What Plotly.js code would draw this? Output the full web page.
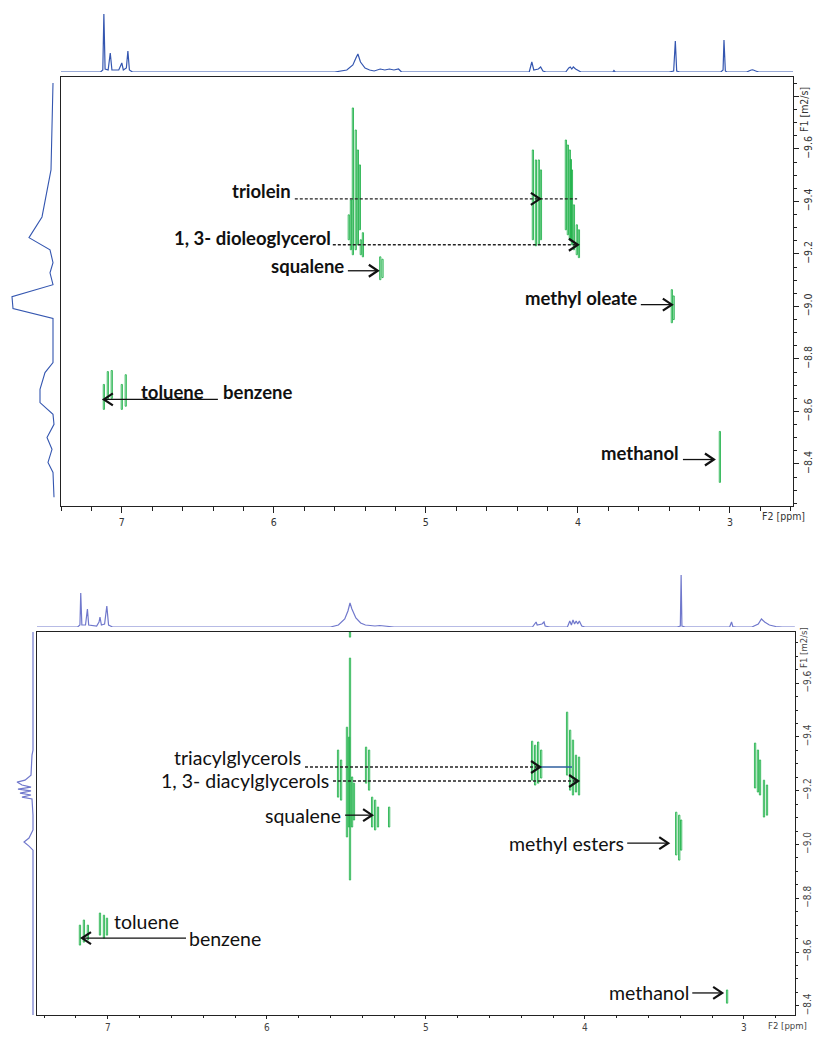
<!DOCTYPE html>
<html><head><meta charset="utf-8">
<script src="https://cdn.plot.ly/plotly-3.0.1.min.js"></script>
<style>html,body{margin:0;padding:0;background:#fff}#chart{width:813px;height:1037px}</style>
</head><body><div id="chart"></div>
<script>
// ---------------- DATA: top panel (triolein mixture) ----------------
// 1D 1H spectrum above the top DOSY map (ppm, intensity)
const topSpecPpm = [7.40,7.14,7.125,7.118,7.11,7.09,7.076,7.065,7.02,7.0,6.99,6.97,6.96,6.95,6.93,
  5.60,5.52,5.48,5.46,5.447,5.43,5.40,5.37,5.34,5.30,5.27,5.24,5.21,5.18,5.16,
  4.32,4.303,4.29,4.26,4.245,4.23,4.21,
  4.08,4.06,4.05,4.04,4.03,4.015,4.0,3.98,
  3.77,3.763,3.755,
  3.40,3.37,3.359,3.35,3.33,
  3.06,3.045,3.039,3.03,3.02,
  2.89,2.86,2.85,2.83,2.81,2.58];
const topSpecInt = [0,0,2,58,3,2,19,2,2,9,2,4,21,2,0,
  0,2,7,14,18,10,4,2,1,3,2,3,2,3,0,
  0,10,2,3,5,1,0,
  0,4,5,3,5,3,2,0,
  0,1.5,0,
  0,1,31,1,0,
  0,2,32,1,0,
  0,2,2.2,1,0,0];
// F1 projection (log D, intensity)
const topProjLogD = [-9.851,-9.520,-9.341,-9.262,-9.216,-9.167,-9.128,-9.083,-9.037,-8.992,-8.954,-8.786,-8.748,-8.684,-8.634,-8.589,-8.551,-8.501,-8.456,-8.406,-8.368,-8.273];
const topProjInt  = [0,2,11,24,3,0,3,0,41,40,0,0,8,13,13,0,-1,6,1,5,0,-1];
// 2D cross-peak stripes: chemical shift (ppm), log D upper and lower end
const topPeakPpm = [5.480,5.461,5.447,5.434,5.507,5.493,5.414,5.428, 5.300,5.285, 4.296,4.276,4.257,4.243, 4.079,4.066,4.053,4.046,4.039,4.026,4.007,3.993, 3.382,3.370, 3.066, 7.118,7.092,7.066,7.000,6.974];
const topPeakHi  = [-9.756,-9.672,-9.596,-9.539,-9.349,-9.406,-9.281,-9.254, -9.189,-9.180, -9.596,-9.558,-9.558,-9.520, -9.634,-9.615,-9.596,-9.560,-9.520,-9.387,-9.311,-9.292, -9.064,-9.040, -8.524, -8.703,-8.752,-8.756,-8.703,-8.740];
const topPeakLo  = [-9.197,-9.216,-9.235,-9.292,-9.254,-9.216,-9.189,-9.197, -9.102,-9.110, -9.254,-9.231,-9.235,-9.254, -9.292,-9.273,-9.254,-9.250,-9.235,-9.216,-9.197,-9.186, -8.938,-8.950, -8.330, -8.608,-8.646,-8.650,-8.608,-8.620];

// ---------------- DATA: bottom panel (reaction mixture) ----------------
const botSpecPpm = [7.445,7.19,7.175,7.170,7.163,7.14,7.128,7.12,7.07,7.055,7.049,7.04,7.02,7.006,6.995,6.97,
  5.60,5.55,5.51,5.49,5.477,5.465,5.44,5.41,5.38,5.35,5.32,5.29,5.26,5.23,5.20,
  4.33,4.315,4.307,4.30,4.27,4.257,4.25,4.22,
  4.11,4.095,4.085,4.075,4.065,4.055,4.045,4.035,4.02,4.0,
  3.42,3.40,3.395,3.39,3.37,
  3.09,3.078,3.07,3.05,
  2.95,2.91,2.89,2.87,2.84,2.80,2.76,2.68];
const botSpecInt = [0,0,2,34,2,2,18,2,1,5,10,2,3,21,2,0,
  0,2,8,16,24,18,9,4,2,1.5,1,1.5,1,1,0,
  0,3,5,2,3,5,1,0,
  0,6,2,7,3,6,3,6,1,0,
  0,1,52,1,0,
  0,5,0.5,0,
  0,3,8,5,2,0.5,0,0];
const botProjLogD = [-9.790,-9.351,-9.332,-9.258,-9.239,-9.232,-9.221,-9.213,-9.206,-9.199,-9.191,-9.184,-9.176,-9.169,-9.109,-9.054,-9.024,-9.009,-8.994,-8.979,-8.366];
const botProjInt  = [0,0,1,2,8,16,11,2,15,2,13,2,11,1,0,0,4,9,4,0,0];
const botPeakPpm = [5.477,5.477,5.496,5.483,5.552,5.533,5.464,5.452,5.376,5.357,5.338,5.319,5.301,5.231,
  4.332,4.313,4.294,4.275, 4.112,4.093,4.075,4.056,4.037, 3.426,3.407,3.395, 2.930,2.912,2.899,2.874,2.855, 3.106,
  7.175,7.150,7.125,7.049,7.024,7.005];
const botPeakHi  = [-9.693,-9.790,-9.436,-9.399,-9.351,-9.314,-9.251,-9.228,-9.362,-9.351,-9.176,-9.165,-9.139,-9.139,
  -9.384,-9.369,-9.381,-9.351, -9.492,-9.425,-9.388,-9.332,-9.325, -9.120,-9.109,-9.091, -9.377,-9.351,-9.314,-9.239,-9.221, -8.459,
  -8.700,-8.719,-8.700,-8.745,-8.737,-8.726];
const botPeakLo  = [-8.868,-9.771,-9.028,-9.065,-9.176,-9.165,-9.065,-9.091,-9.228,-9.202,-9.065,-9.054,-9.065,-9.065,
  -9.239,-9.221,-9.228,-9.247, -9.258,-9.202,-9.184,-9.195,-9.184, -8.961,-8.942,-8.979, -9.210,-9.195,-9.184,-9.102,-9.109, -8.410,
  -8.626,-8.637,-8.645,-8.663,-8.652,-8.663];

// axis ticks
const f1Ticks = [-9.8,-9.6,-9.4,-9.2,-9.0,-8.8,-8.6,-8.4];
const f1TickText = ['','−9.6','−9.4','−9.2','−9.0','−8.8','−8.6','−8.4'];
const f2Ticks = [7,6,5,4,3];
const f2TickText = ['7','6','5','4','3'];

// ---------------- layout helpers ----------------
const W=813,H=1037;
const fx = p => p/W, fy = p => 1-p/H;
const GREEN='#22b24c', BLUE_TOP='#3456b0', BLUE_BOT='#7078cc';
const TOP = {x0:61,x1:793,y0:77,y1:506, xr:[7.40,2.585], yr:[-8.24,-9.874]};
const BOT = {x0:37,x1:795,y0:632,y1:1015, xr:[7.445,2.679], yr:[-8.366,-9.790]};

function stripes(ppm,hi,lo,hw){
  const x=[],y=[];
  for(let i=0;i<ppm.length;i++){
    x.push(ppm[i]-hw,ppm[i]+hw,ppm[i]+hw,ppm[i]-hw,ppm[i]-hw,null);
    y.push(hi[i],hi[i],lo[i],lo[i],hi[i],null);
  }
  return {x,y};
}
const ts = stripes(topPeakPpm,topPeakHi,topPeakLo,0.004);
const bs = stripes(botPeakPpm,botPeakHi,botPeakLo,0.004);

const traces = [
  {type:'scatter',mode:'lines',x:topSpecPpm,y:topSpecInt,xaxis:'x2',yaxis:'y2',line:{color:BLUE_TOP,width:1.2},hoverinfo:'skip'},
  {type:'scatter',mode:'lines',x:topProjInt,y:topProjLogD,xaxis:'x3',yaxis:'y3',line:{color:BLUE_TOP,width:1.1},hoverinfo:'skip'},
  {type:'scatter',mode:'lines',x:ts.x,y:ts.y,xaxis:'x',yaxis:'y',line:{color:GREEN,width:0.9},connectgaps:false,hoverinfo:'skip'},
  {type:'scatter',mode:'lines',x:botSpecPpm,y:botSpecInt,xaxis:'x5',yaxis:'y5',line:{color:BLUE_BOT,width:1.2},hoverinfo:'skip'},
  {type:'scatter',mode:'lines',x:botProjInt,y:botProjLogD,xaxis:'x6',yaxis:'y6',line:{color:BLUE_BOT,width:1.2},hoverinfo:'skip'},
  {type:'scatter',mode:'lines',x:bs.x,y:bs.y,xaxis:'x4',yaxis:'y4',line:{color:GREEN,width:0.9},connectgaps:false,hoverinfo:'skip'}
];

const tickFont = {family:'Liberation Sans Narrow, DejaVu Sans Condensed, Arial Narrow, sans-serif',size:10.5,color:'#333'};
const tickFontSm = {family:'Liberation Sans Narrow, DejaVu Sans Condensed, Arial Narrow, sans-serif',size:10,color:'#444'};
function mainX(P,anchor,tl,tf){
  return {domain:[fx(P.x0),fx(P.x1)],range:P.xr,anchor:anchor,showline:true,mirror:true,linecolor:'#222',linewidth:1,
    ticks:'outside',ticklen:tl,tickcolor:'#222',tickmode:'array',tickvals:f2Ticks,ticktext:f2TickText,
    minor:{tickmode:'linear',tick0:0,dtick:0.2,ticks:'outside',ticklen:Math.max(tl-2,2),tickcolor:'#222'},
    showgrid:false,zeroline:false,tickfont:tf,fixedrange:true};
}
function mainY(P,anchor,tl,tf){
  return {domain:[fy(P.y1),fy(P.y0)],range:P.yr,anchor:anchor,side:'right',showline:true,mirror:true,linecolor:'#222',linewidth:1,
    ticks:'outside',ticklen:tl,tickcolor:'#222',tickmode:'array',tickvals:f1Ticks,ticktext:f1TickText,tickangle:-90,
    minor:{tickmode:'linear',tick0:0,dtick:0.05,ticks:'outside',ticklen:Math.max(tl-2,2),tickcolor:'#222'},
    showgrid:false,zeroline:false,tickfont:tf,fixedrange:true};
}
const hidden = (dom,range,anchor)=>({domain:dom,range:range,anchor:anchor,visible:false,fixedrange:true});

// pixel-size helpers for arrow heads
function scale(P){return {ux:(P.xr[0]-P.xr[1])/(P.x1-P.x0), uy:(P.yr[0]-P.yr[1])/(P.y1-P.y0)};}
function chevron(P,xr,yr,x,y,dir,col){
  const s=scale(P), a=9*s.ux*dir, b=6*s.uy;
  return {type:'path',xref:xr,yref:yr,path:`M ${x+a},${y-b} L ${x},${y} L ${x+a},${y+b}`,line:{color:col||'#111',width:2.2}};
}
function hline(xr,yr,xa,xb,y,dash,col,w){
  return {type:'line',xref:xr,yref:yr,x0:xa,x1:xb,y0:y,y1:y,line:{color:col||'#222',width:w||1.3,dash:dash||'solid'}};
}
const DOT='3px,2px';

const shapes = [
  // top panel
  hline('x','y',5.862,4.005,-9.410,DOT), chevron(TOP,'x','y',4.250,-9.410,1),
  hline('x','y',5.612,4.000,-9.235,DOT), chevron(TOP,'x','y',4.000,-9.235,1),
  hline('x','y',5.513,5.320,-9.136,null,'#111',1.3), chevron(TOP,'x','y',5.316,-9.136,1),
  hline('x','y',3.586,3.386,-9.007,null,'#111',1.3), chevron(TOP,'x','y',3.382,-9.007,1),
  hline('x','y',6.368,7.112,-8.646,null,'#111',1.3), chevron(TOP,'x','y',7.118,-8.646,-1),
  hline('x','y',3.309,3.110,-8.417,null,'#111',1.3), chevron(TOP,'x','y',3.105,-8.417,1),
  // bottom panel
  hline('x4','y4',5.760,4.285,-9.288,DOT), hline('x4','y4',4.282,4.081,-9.288,null,'#2f5f9e',1.3), chevron(BOT,'x4','y4',4.282,-9.288,1),
  hline('x4','y4',5.584,4.043,-9.236,DOT), chevron(BOT,'x4','y4',4.043,-9.236,1),
  hline('x4','y4',5.508,5.342,-9.109,null,'#111',1.3), chevron(BOT,'x4','y4',5.338,-9.109,1),
  hline('x4','y4',3.734,3.480,-9.005,null,'#111',1.3), chevron(BOT,'x4','y4',3.476,-9.005,1),
  hline('x4','y4',6.508,7.156,-8.652,null,'#111',1.3), chevron(BOT,'x4','y4',7.162,-8.652,-1),
  hline('x4','y4',3.325,3.141,-8.448,null,'#111',1.3), chevron(BOT,'x4','y4',3.137,-8.448,1)
];

const LB = {family:'Lato, Open Sans, sans-serif',size:18.5,color:'#111',weight:'bold'};
const LR = {family:'Lato, Open Sans, sans-serif',size:19.5,color:'#111'};
function lab(xr,yr,x,y,t,anchor,font){return {xref:xr,yref:yr,x:x,y:y,text:t,showarrow:false,xanchor:anchor,yanchor:'middle',font:font};}
const AX = {family:'Liberation Sans Narrow, DejaVu Sans Condensed, sans-serif',size:10.5,color:'#333'};
const AXs = {family:'Liberation Sans Narrow, DejaVu Sans Condensed, sans-serif',size:9.5,color:'#444'};
const annotations = [
  lab('x','y',5.872,-9.440,'triolein','right',LB),
  lab('x','y',5.612,-9.262,'1, 3- dioleoglycerol','right',LB),
  lab('x','y',5.527,-9.155,'squalene','right',LB),
  lab('x','y',3.600,-9.033,'methyl oleate','right',LB),
  lab('x','y',6.890,-8.676,'toluene','left',LB),
  lab('x','y',6.350,-8.676,'benzene','left',LB),
  lab('x','y',3.322,-8.440,'methanol','right',LB),
  lab('x4','y4',5.772,-9.325,'triacylglycerols','right',LR),
  lab('x4','y4',5.596,-9.239,'1, 3- diacylglycerols','right',LR),
  lab('x4','y4',5.520,-9.109,'squalene','right',LR),
  lab('x4','y4',3.740,-9.005,'methyl esters','right',LR),
  lab('x4','y4',6.975,-8.715,'toluene','left',LR),
  lab('x4','y4',6.502,-8.652,'benzene','left',LR),
  lab('x4','y4',3.332,-8.448,'methanol','right',LR),
  // axis titles (TopSpin style)
  {xref:'paper',yref:'paper',x:fx(760),y:fy(516),text:'F2 [ppm]',showarrow:false,xanchor:'left',yanchor:'middle',font:AX},
  {xref:'paper',yref:'paper',x:fx(804),y:fy(110),text:'F1 [m2/s]',showarrow:false,textangle:-90,xanchor:'center',yanchor:'middle',font:AX},
  {xref:'paper',yref:'paper',x:fx(766),y:fy(1025),text:'F2 [ppm]',showarrow:false,xanchor:'left',yanchor:'middle',font:AXs},
  {xref:'paper',yref:'paper',x:fx(803),y:fy(648),text:'F1 [m2/s]',showarrow:false,textangle:-90,xanchor:'center',yanchor:'middle',font:AXs}
];

const layout = {
  width:W,height:H,margin:{l:0,r:0,t:0,b:0},paper_bgcolor:'#fff',plot_bgcolor:'rgba(0,0,0,0)',showlegend:false,
  xaxis: mainX(TOP,'y',6,tickFont), yaxis: mainY(TOP,'x',5,tickFont),
  xaxis2: hidden([fx(TOP.x0),fx(TOP.x1)],TOP.xr,'y2'), yaxis2: hidden([fy(72),fy(2)],[0,70],'x2'),
  xaxis3: hidden([fx(8),fx(58)],[45,-5],'y3'), yaxis3: hidden([fy(TOP.y1),fy(TOP.y0)],TOP.yr,'x3'),
  xaxis4: mainX(BOT,'y4',3,tickFontSm), yaxis4: mainY(BOT,'x4',3,tickFontSm),
  xaxis5: hidden([fx(BOT.x0),fx(BOT.x1)],BOT.xr,'y5'), yaxis5: hidden([fy(627),fy(567)],[0,60],'x5'),
  xaxis6: hidden([fx(8),fx(36)],[25,-3],'y6'), yaxis6: hidden([fy(BOT.y1),fy(BOT.y0)],BOT.yr,'x6'),
  shapes:shapes, annotations:annotations
};
Plotly.newPlot('chart',traces,layout,{staticPlot:true,displayModeBar:false});
</script></body></html>
